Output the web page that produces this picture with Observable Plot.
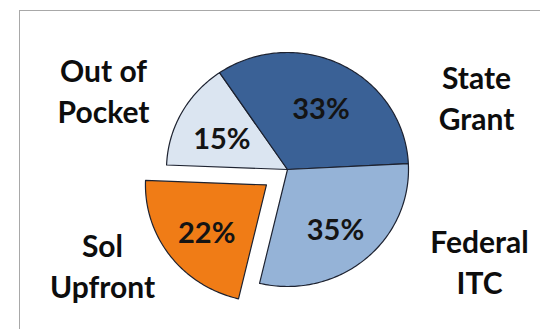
<!DOCTYPE html>
<html>
<head>
<meta charset="utf-8">
<script src="https://cdn.jsdelivr.net/npm/d3@7"></script>
<script src="https://cdn.jsdelivr.net/npm/@observablehq/plot@0.6"></script>
<style>
  html, body { margin: 0; padding: 0; background: #fff; }
  #wrap { position: relative; width: 540px; height: 329px; overflow: hidden; }
  #frame { position: absolute; left: 19px; top: 10px; right: -5px; bottom: -5px;
           border-left: 1.5px solid #a8a8a8; border-top: 1.5px solid #a8a8a8; }
  #chart { position: absolute; left: 0; top: 0; }
</style>
</head>
<body>
<div id="wrap"><div id="frame"></div><div id="chart"></div></div>
<script>
// ---- data ----
const categories = ["Out of Pocket", "State Grant", "Federal ITC", "Sol Upfront"];
const nameLabels = ["Out of\nPocket", "State\nGrant", "Federal\nITC", "Sol\nUpfront"];
const shares = [14.9, 33.7, 29.5, 21.9];          // slice sizes as drawn (percent of circle)
const pctLabels = ["15%", "33%", "35%", "22%"];   // printed labels
const explodedSlice = "Sol Upfront";

// ---- layout / style ----
const W = 540, H = 329;
const cx = 287, cy = 169, rx = 121, ry = 117;     // pie centre & radii (px)
const startDeg = 272.2;                            // first slice starts here (clockwise from 12 o'clock)
const explodePx = 26;
const pctRadius = 0.62;
const colors = ["#dbe5f1", "#3a6196", "#95b3d7", "#f07c16"];
// outer name label anchors (px)
const namePos = [[103, 89], [476, 96], [479, 260], [102, 264]];

// unit space: pie radius = 1
const xDomain = [-cx / rx, (W - cx) / rx];
const yDomain = [-(H - cy) / ry, cy / ry];
const total = d3.sum(shares);
const explodeU = explodePx / ((rx + ry) / 2);

const pts = [];
const pcts = [];
let a = startDeg;
categories.forEach((c, i) => {
  const a0 = a, a1 = a + shares[i] / total * 360;
  a = a1;
  const mid = (a0 + a1) / 2 * Math.PI / 180;
  const off = c === explodedSlice ? explodeU : 0;
  const ox = off * Math.sin(mid), oy = off * Math.cos(mid);
  pts.push({cat: c, x: ox, y: oy});
  const n = Math.max(2, Math.ceil(a1 - a0));
  for (let k = 0; k <= n; k++) {
    const t = (a0 + (a1 - a0) * k / n) * Math.PI / 180;
    pts.push({cat: c, x: ox + Math.sin(t), y: oy + Math.cos(t)});
  }
  pcts.push({text: pctLabels[i], x: ox + pctRadius * Math.sin(mid), y: oy + pctRadius * Math.cos(mid)});
});

const names = nameLabels.map((t, i) => ({
  text: t,
  x: (namePos[i][0] - cx) / rx,
  y: (cy - namePos[i][1]) / ry
}));

const chart = Plot.plot({
  width: W, height: H,
  margin: 0,
  x: {domain: xDomain, axis: null},
  y: {domain: yDomain, axis: null},
  color: {domain: categories, range: colors},
  style: {background: "transparent", overflow: "visible"},
  marks: [
    Plot.line(pts, {x: "x", y: "y", z: "cat", fill: "cat", stroke: "#1d2230",
      strokeWidth: 1.2, curve: "linear-closed", strokeLinejoin: "round"}),
    Plot.text(pcts, {x: "x", y: "y", dy: 5, text: "text", fontSize: 29, fontWeight: "bold",
      fontFamily: "Lato, 'Open Sans', sans-serif", fill: "#141414"}),
    Plot.text(names, {x: "x", y: "y", text: "text", fontSize: 30, fontWeight: "bold",
      lineHeight: 1.37, fontFamily: "Lato, 'Open Sans', sans-serif", fill: "#0d0d0d"})
  ]
});
document.getElementById("chart").appendChild(chart);
</script>
</body>
</html>
